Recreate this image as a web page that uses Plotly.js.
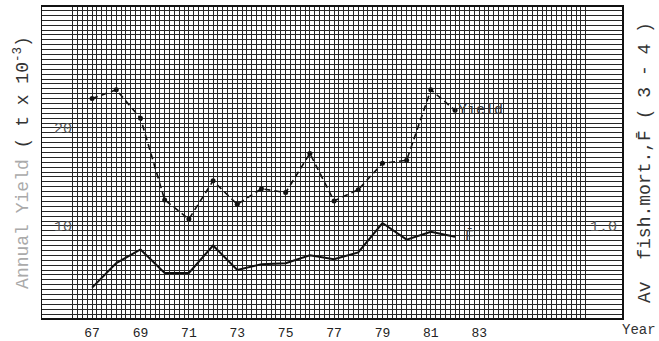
<!DOCTYPE html>
<html><head><meta charset="utf-8">
<script src="https://cdn.plot.ly/plotly-3.0.1.min.js"></script>
<style>html,body{margin:0;padding:0;background:#fff}#c{width:659px;height:341px}</style>
</head><body><div id="c"></div><script>
const years  = [67,68,69,70,71,72,73,74,75,76,77,78,79,80,81,82];
const yieldK = [23.0,23.9,21.0,12.65,10.7,14.6,12.2,13.8,13.4,17.4,12.55,13.7,16.4,16.7,23.9,21.8];
const fbar   = [0.37,0.62,0.76,0.52,0.52,0.80,0.55,0.61,0.62,0.70,0.66,0.73,1.03,0.86,0.94,0.89];
const xTickVals = [67,69,71,73,75,77,79,81,83];
const xTickText = ['67','69','71','73','75','77','79','81','83'];
const yTickVals = [10,20];
const y2TickVals = [1.0];
const y2TickText = ['1.0'];

const mono = 'Liberation Mono, Courier New, monospace';
const gridCol = '#262626';

const traces = [
  {x: years, y: yieldK, type:'scatter', mode:'lines+markers', xaxis:'x', yaxis:'y',
   line:{color:'#111', width:1.6, dash:'6px,4px'}, marker:{color:'#111', size:5}, showlegend:false},
  {x: years, y: fbar, type:'scatter', mode:'lines', xaxis:'x', yaxis:'y2',
   line:{color:'#111', width:2}, showlegend:false}
];

const layout = {
  width:659, height:341,
  margin:{l:42, r:37, t:7, b:23},
  paper_bgcolor:'#fff', plot_bgcolor:'#fff',
  font:{family:mono, color:'#222'},
  xaxis:{range:[64.93,88.9], tickmode:'array', tickvals:xTickVals, ticktext:xTickText,
    showgrid:true, gridcolor:gridCol, gridwidth:1, zeroline:false,
    minor:{dtick:0.2, tick0:0, showgrid:true, gridcolor:gridCol, gridwidth:1},
    showline:true, mirror:true, linecolor:'#111', linewidth:2,
    ticks:'', ticklabelstandoff:1, tickfont:{size:13, family:mono, color:'#222'}},
  yaxis:{range:[0.6,32.35], tickmode:'array', tickvals:yTickVals,
    showgrid:true, gridcolor:gridCol, gridwidth:1, zeroline:false,
    minor:{dtick:0.5, tick0:0, showgrid:true, gridcolor:gridCol, gridwidth:1},
    showline:true, mirror:true, linecolor:'#111', linewidth:1.5,
    ticks:'', ticklabelposition:'inside', ticklabelstandoff:12,
    tickfont:{size:15, family:mono, color:'#555'},
    title:{text:'<span style="color:#aaa">Annual Yield</span> ( t x 10<sup>-3</sup>)', font:{size:18, family:mono, color:'#333'}, standoff:20}},
  yaxis2:{range:[0.06,3.235], overlaying:'y', side:'right', tickmode:'array',
    tickvals:y2TickVals, ticktext:y2TickText, showgrid:false, zeroline:false,
    ticks:'', ticklabelposition:'inside', ticklabelstandoff:2,
    tickfont:{size:15, family:mono, color:'#555'},
    title:{text:'Av  fish.mort.,F\u0304 ( 3 - 4 )', font:{size:18, family:mono, color:'#333'}, standoff:21}},
  annotations:[
    {x:82, y:21.8, xref:'x', yref:'y', text:'Yield', showarrow:false, xanchor:'left', xshift:1, font:{size:15, family:mono, color:'#333'}},
    {x:82, y:0.89, xref:'x', yref:'y2', text:'F\u0304', showarrow:false, xanchor:'left', xshift:8, font:{size:15, family:mono, color:'#333'}},
    {x:1, y:0, xref:'paper', yref:'paper', text:'Year', showarrow:false, xanchor:'left', yanchor:'top', xshift:-2, yshift:-2, font:{size:14, family:mono, color:'#333'}}
  ]
};
Plotly.newPlot('c', traces, layout, {staticPlot:true, displayModeBar:false});
</script></body></html>
